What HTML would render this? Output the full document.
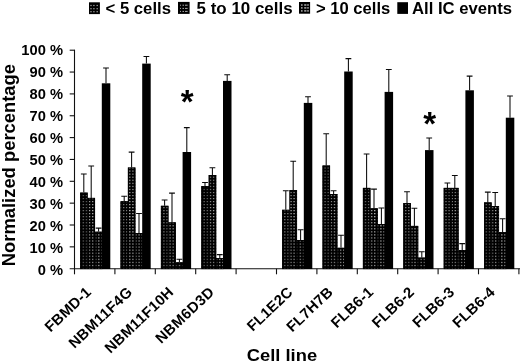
<!DOCTYPE html><html><head><meta charset="utf-8"><title>chart</title><style>html,body{margin:0;padding:0;background:#fff}svg{display:block}text{font-family:"Liberation Sans",Arial,sans-serif;font-weight:bold;fill:#000}</style></head><body>
<svg width="520" height="363" viewBox="0 0 520 363">
<defs>
<pattern id="p1" width="3.1" height="3.04" patternUnits="userSpaceOnUse" x="2.05" y="0.33"><rect width="3.1" height="3.04" fill="#000"/><rect x="0" y="0" width="1.3" height="1.05" fill="#808080"/></pattern>
<pattern id="p2" width="3.1" height="3.04" patternUnits="userSpaceOnUse" x="2.05" y="0.33"><rect width="3.1" height="3.04" fill="#000"/><rect x="0" y="0" width="1.3" height="1.05" fill="#b8b8b8"/></pattern>
<pattern id="p3" width="3.1" height="3.04" patternUnits="userSpaceOnUse" x="2.05" y="0.33"><rect width="3.1" height="3.04" fill="#000"/><rect x="0" y="0" width="1.3" height="1.05" fill="#b8b8b8"/></pattern>
</defs>
<rect width="520" height="363" fill="#fff"/>
<rect x="89.0" y="2.3" width="10.9" height="11.8" fill="#000"/>
<rect x="178.0" y="1.9" width="11.6" height="12.0" fill="#000"/>
<rect x="299.0" y="2.0" width="11.1" height="11.7" fill="#000"/>
<rect x="397.3" y="2.2" width="10.7" height="11.7" fill="#000"/>
<rect x="90.30" y="4.90" width="1.40" height="1.20" fill="#999"/>
<rect x="90.30" y="8.10" width="1.40" height="1.20" fill="#999"/>
<rect x="90.30" y="11.10" width="1.40" height="1.20" fill="#999"/>
<rect x="93.20" y="4.90" width="1.40" height="1.20" fill="#999"/>
<rect x="93.20" y="8.10" width="1.40" height="1.20" fill="#999"/>
<rect x="93.20" y="11.10" width="1.40" height="1.20" fill="#999"/>
<rect x="96.50" y="4.90" width="1.40" height="1.20" fill="#999"/>
<rect x="96.50" y="8.10" width="1.40" height="1.20" fill="#999"/>
<rect x="96.50" y="11.10" width="1.40" height="1.20" fill="#999"/>
<rect x="180.00" y="4.70" width="1.00" height="1.00" fill="#aaa"/>
<rect x="180.00" y="7.90" width="1.00" height="1.00" fill="#aaa"/>
<rect x="180.00" y="10.90" width="1.00" height="1.00" fill="#aaa"/>
<rect x="182.50" y="4.70" width="1.50" height="1.00" fill="#aaa"/>
<rect x="182.50" y="7.90" width="1.50" height="1.00" fill="#aaa"/>
<rect x="182.50" y="10.90" width="1.50" height="1.00" fill="#aaa"/>
<rect x="185.00" y="4.70" width="2.60" height="1.00" fill="#aaa"/>
<rect x="185.00" y="7.90" width="2.60" height="1.00" fill="#aaa"/>
<rect x="185.00" y="10.90" width="2.60" height="1.00" fill="#aaa"/>
<rect x="301.00" y="4.25" width="1.60" height="1.50" fill="#aaa"/>
<rect x="301.00" y="7.15" width="1.60" height="1.50" fill="#aaa"/>
<rect x="301.00" y="10.15" width="1.60" height="1.50" fill="#aaa"/>
<rect x="304.20" y="4.25" width="2.20" height="1.50" fill="#aaa"/>
<rect x="304.20" y="7.15" width="2.20" height="1.50" fill="#aaa"/>
<rect x="304.20" y="10.15" width="2.20" height="1.50" fill="#aaa"/>
<rect x="307.20" y="4.25" width="1.60" height="1.50" fill="#aaa"/>
<rect x="307.20" y="7.15" width="1.60" height="1.50" fill="#aaa"/>
<rect x="307.20" y="10.15" width="1.60" height="1.50" fill="#aaa"/>
<text x="105.5" y="13.8" font-size="16.2" textLength="65.5" lengthAdjust="spacingAndGlyphs">&lt; 5 cells</text>
<text x="196.6" y="13.8" font-size="16.2" textLength="96" lengthAdjust="spacingAndGlyphs">5 to 10 cells</text>
<text x="316" y="13.8" font-size="16.2" textLength="74.3" lengthAdjust="spacingAndGlyphs">&gt; 10 cells</text>
<text x="412" y="13.8" font-size="16.2" textLength="100" lengthAdjust="spacingAndGlyphs">All IC events</text>
<g stroke="#111" stroke-width="1.1" fill="none">
<line x1="74.5" y1="49.7" x2="74.5" y2="274.3"/>
<line x1="69.7" y1="268.7" x2="520" y2="268.7"/>
<line x1="69.7" y1="50.20" x2="74.5" y2="50.20"/>
<line x1="69.7" y1="72.05" x2="74.5" y2="72.05"/>
<line x1="69.7" y1="93.90" x2="74.5" y2="93.90"/>
<line x1="69.7" y1="115.75" x2="74.5" y2="115.75"/>
<line x1="69.7" y1="137.60" x2="74.5" y2="137.60"/>
<line x1="69.7" y1="159.45" x2="74.5" y2="159.45"/>
<line x1="69.7" y1="181.30" x2="74.5" y2="181.30"/>
<line x1="69.7" y1="203.15" x2="74.5" y2="203.15"/>
<line x1="69.7" y1="225.00" x2="74.5" y2="225.00"/>
<line x1="69.7" y1="246.85" x2="74.5" y2="246.85"/>
<line x1="114.90" y1="268.7" x2="114.90" y2="274.3"/>
<line x1="155.30" y1="268.7" x2="155.30" y2="274.3"/>
<line x1="195.70" y1="268.7" x2="195.70" y2="274.3"/>
<line x1="236.10" y1="268.7" x2="236.10" y2="274.3"/>
<line x1="276.50" y1="268.7" x2="276.50" y2="274.3"/>
<line x1="316.90" y1="268.7" x2="316.90" y2="274.3"/>
<line x1="357.30" y1="268.7" x2="357.30" y2="274.3"/>
<line x1="397.70" y1="268.7" x2="397.70" y2="274.3"/>
<line x1="438.10" y1="268.7" x2="438.10" y2="274.3"/>
<line x1="478.50" y1="268.7" x2="478.50" y2="274.3"/>
<line x1="518.90" y1="268.7" x2="518.90" y2="274.3"/>
</g>
<text transform="translate(63.0,55.30) scale(1.05,1)" font-size="14" text-anchor="end">100 %</text>
<text transform="translate(63.0,77.22) scale(1.05,1)" font-size="14" text-anchor="end">90 %</text>
<text transform="translate(63.0,99.14) scale(1.05,1)" font-size="14" text-anchor="end">80 %</text>
<text transform="translate(63.0,121.06) scale(1.05,1)" font-size="14" text-anchor="end">70 %</text>
<text transform="translate(63.0,142.98) scale(1.05,1)" font-size="14" text-anchor="end">60 %</text>
<text transform="translate(63.0,164.90) scale(1.05,1)" font-size="14" text-anchor="end">50 %</text>
<text transform="translate(63.0,186.82) scale(1.05,1)" font-size="14" text-anchor="end">40 %</text>
<text transform="translate(63.0,208.74) scale(1.05,1)" font-size="14" text-anchor="end">30 %</text>
<text transform="translate(63.0,230.66) scale(1.05,1)" font-size="14" text-anchor="end">20 %</text>
<text transform="translate(63.0,252.58) scale(1.05,1)" font-size="14" text-anchor="end">10 %</text>
<text transform="translate(63.0,274.50) scale(1.05,1)" font-size="14" text-anchor="end">0 %</text>
<text transform="translate(14.7,266.2) rotate(-90)" font-size="18.3" textLength="202.2" lengthAdjust="spacingAndGlyphs">Normalized percentage</text>
<text x="246.8" y="361.2" font-size="17.3" textLength="70.3" lengthAdjust="spacingAndGlyphs">Cell line</text>
<path d="M83.80 192.6 V174.0 M80.90 174.0 H86.70" stroke="#0a0a0a" stroke-width="1.05" fill="none"/>
<rect x="80.10" y="192.6" width="7.550000000000001" height="76.40" fill="url(#p1)"/>
<rect x="80.50" y="193.0" width="6.750000000000001" height="75.70" fill="none" stroke="#000" stroke-width="0.8"/>
<path d="M91.20 197.9 V165.89999999999998 M88.30 165.89999999999998 H94.10" stroke="#0a0a0a" stroke-width="1.05" fill="none"/>
<rect x="87.50" y="197.9" width="7.550000000000001" height="71.10" fill="url(#p2)"/>
<rect x="87.90" y="198.3" width="6.750000000000001" height="70.40" fill="none" stroke="#000" stroke-width="0.8"/>
<path d="M98.60 231.7 V228.1 M95.70 228.1 H101.50" stroke="#0a0a0a" stroke-width="1.05" fill="none"/>
<rect x="94.90" y="231.7" width="7.550000000000001" height="37.30" fill="url(#p3)"/>
<rect x="95.30" y="232.1" width="6.750000000000001" height="36.60" fill="none" stroke="#000" stroke-width="0.8"/>
<path d="M106.00 83.3 V67.9 M103.10 67.9 H108.90" stroke="#0a0a0a" stroke-width="1.05" fill="none"/>
<rect x="101.80" y="83.3" width="8.50" height="185.70" fill="#000"/>
<text transform="translate(92.30,293.1) rotate(-43.5)" font-size="14.8" letter-spacing="0.3" text-anchor="end">FBMD-1</text>
<path d="M124.20 201.2 V196.2 M121.30 196.2 H127.10" stroke="#0a0a0a" stroke-width="1.05" fill="none"/>
<rect x="120.50" y="201.2" width="7.550000000000001" height="67.80" fill="url(#p1)"/>
<rect x="120.90" y="201.6" width="6.750000000000001" height="67.10" fill="none" stroke="#000" stroke-width="0.8"/>
<path d="M131.60 167.5 V152.1 M128.70 152.1 H134.50" stroke="#0a0a0a" stroke-width="1.05" fill="none"/>
<rect x="127.90" y="167.5" width="7.550000000000001" height="101.50" fill="url(#p2)"/>
<rect x="128.30" y="167.9" width="6.750000000000001" height="100.80" fill="none" stroke="#000" stroke-width="0.8"/>
<path d="M139.00 233.0 V213.39999999999998 M136.10 213.39999999999998 H141.90" stroke="#0a0a0a" stroke-width="1.05" fill="none"/>
<rect x="135.30" y="233.0" width="7.550000000000001" height="36.00" fill="url(#p3)"/>
<rect x="135.70" y="233.4" width="6.750000000000001" height="35.30" fill="none" stroke="#000" stroke-width="0.8"/>
<path d="M146.40 63.6 V56.400000000000006 M143.50 56.400000000000006 H149.30" stroke="#0a0a0a" stroke-width="1.05" fill="none"/>
<rect x="142.20" y="63.6" width="8.50" height="205.40" fill="#000"/>
<text transform="translate(133.40,293.1) rotate(-43.5)" font-size="14.8" letter-spacing="0.4" text-anchor="end">NBM11F4G</text>
<path d="M164.60 205.8 V200.0 M161.70 200.0 H167.50" stroke="#0a0a0a" stroke-width="1.05" fill="none"/>
<rect x="160.90" y="205.8" width="7.550000000000001" height="63.20" fill="url(#p1)"/>
<rect x="161.30" y="206.20000000000002" width="6.750000000000001" height="62.50" fill="none" stroke="#000" stroke-width="0.8"/>
<path d="M172.00 222.3 V193.1 M169.10 193.1 H174.90" stroke="#0a0a0a" stroke-width="1.05" fill="none"/>
<rect x="168.30" y="222.3" width="7.550000000000001" height="46.70" fill="url(#p2)"/>
<rect x="168.70" y="222.70000000000002" width="6.750000000000001" height="46.00" fill="none" stroke="#000" stroke-width="0.8"/>
<path d="M179.40 262.3 V259.2 M176.50 259.2 H182.30" stroke="#0a0a0a" stroke-width="1.05" fill="none"/>
<rect x="175.70" y="262.3" width="7.550000000000001" height="6.70" fill="url(#p3)"/>
<rect x="176.10" y="262.7" width="6.750000000000001" height="6.00" fill="none" stroke="#000" stroke-width="0.8"/>
<path d="M186.80 152.0 V127.60000000000001 M183.90 127.60000000000001 H189.70" stroke="#0a0a0a" stroke-width="1.05" fill="none"/>
<rect x="182.60" y="152.0" width="8.50" height="117.00" fill="#000"/>
<text transform="translate(174.60,293.1) rotate(-43.5)" font-size="14.8" letter-spacing="0.33" text-anchor="end">NBM11F10H</text>
<path d="M205.00 186.0 V182.5 M202.10 182.5 H207.90" stroke="#0a0a0a" stroke-width="1.05" fill="none"/>
<rect x="201.30" y="186.0" width="7.550000000000001" height="83.00" fill="url(#p1)"/>
<rect x="201.70" y="186.4" width="6.750000000000001" height="82.30" fill="none" stroke="#000" stroke-width="0.8"/>
<path d="M212.40 175.0 V167.7 M209.50 167.7 H215.30" stroke="#0a0a0a" stroke-width="1.05" fill="none"/>
<rect x="208.70" y="175.0" width="7.550000000000001" height="94.00" fill="url(#p2)"/>
<rect x="209.10" y="175.4" width="6.750000000000001" height="93.30" fill="none" stroke="#000" stroke-width="0.8"/>
<path d="M219.80 258.1 V254.6 M216.90 254.6 H222.70" stroke="#0a0a0a" stroke-width="1.05" fill="none"/>
<rect x="216.10" y="258.1" width="7.550000000000001" height="10.90" fill="url(#p3)"/>
<rect x="216.50" y="258.5" width="6.750000000000001" height="10.20" fill="none" stroke="#000" stroke-width="0.8"/>
<path d="M227.20 80.9 V74.7 M224.30 74.7 H230.10" stroke="#0a0a0a" stroke-width="1.05" fill="none"/>
<rect x="223.00" y="80.9" width="8.50" height="188.10" fill="#000"/>
<text transform="translate(215.20,293.1) rotate(-43.5)" font-size="14.8" letter-spacing="0.4" text-anchor="end">NBM6D3D</text>
<path d="M285.80 209.8 V190.7 M282.90 190.7 H288.70" stroke="#0a0a0a" stroke-width="1.05" fill="none"/>
<rect x="282.10" y="209.8" width="7.550000000000001" height="59.20" fill="url(#p1)"/>
<rect x="282.50" y="210.20000000000002" width="6.750000000000001" height="58.50" fill="none" stroke="#000" stroke-width="0.8"/>
<path d="M293.20 190.0 V161.2 M290.30 161.2 H296.10" stroke="#0a0a0a" stroke-width="1.05" fill="none"/>
<rect x="289.50" y="190.0" width="7.550000000000001" height="79.00" fill="url(#p2)"/>
<rect x="289.90" y="190.4" width="6.750000000000001" height="78.30" fill="none" stroke="#000" stroke-width="0.8"/>
<path d="M300.60 240.0 V229.79999999999998 M297.70 229.79999999999998 H303.50" stroke="#0a0a0a" stroke-width="1.05" fill="none"/>
<rect x="296.90" y="240.0" width="7.550000000000001" height="29.00" fill="url(#p3)"/>
<rect x="297.30" y="240.4" width="6.750000000000001" height="28.30" fill="none" stroke="#000" stroke-width="0.8"/>
<path d="M308.00 102.9 V96.7 M305.10 96.7 H310.90" stroke="#0a0a0a" stroke-width="1.05" fill="none"/>
<rect x="303.80" y="102.9" width="8.50" height="166.10" fill="#000"/>
<text transform="translate(293.80,293.1) rotate(-43.5)" font-size="14.8" letter-spacing="0.25" text-anchor="end">FL1E2C</text>
<path d="M326.20 165.5 V133.7 M323.30 133.7 H329.10" stroke="#0a0a0a" stroke-width="1.05" fill="none"/>
<rect x="322.50" y="165.5" width="7.550000000000001" height="103.50" fill="url(#p1)"/>
<rect x="322.90" y="165.9" width="6.750000000000001" height="102.80" fill="none" stroke="#000" stroke-width="0.8"/>
<path d="M333.60 194.0 V190.7 M330.70 190.7 H336.50" stroke="#0a0a0a" stroke-width="1.05" fill="none"/>
<rect x="329.90" y="194.0" width="7.550000000000001" height="75.00" fill="url(#p2)"/>
<rect x="330.30" y="194.4" width="6.750000000000001" height="74.30" fill="none" stroke="#000" stroke-width="0.8"/>
<path d="M341.00 247.8 V235.2 M338.10 235.2 H343.90" stroke="#0a0a0a" stroke-width="1.05" fill="none"/>
<rect x="337.30" y="247.8" width="7.550000000000001" height="21.20" fill="url(#p3)"/>
<rect x="337.70" y="248.20000000000002" width="6.750000000000001" height="20.50" fill="none" stroke="#000" stroke-width="0.8"/>
<path d="M348.40 71.5 V58.6 M345.50 58.6 H351.30" stroke="#0a0a0a" stroke-width="1.05" fill="none"/>
<rect x="344.20" y="71.5" width="8.50" height="197.50" fill="#000"/>
<text transform="translate(334.00,293.1) rotate(-43.5)" font-size="14.8" letter-spacing="0.3" text-anchor="end">FL7H7B</text>
<path d="M366.60 187.9 V153.89999999999998 M363.70 153.89999999999998 H369.50" stroke="#0a0a0a" stroke-width="1.05" fill="none"/>
<rect x="362.90" y="187.9" width="7.550000000000001" height="81.10" fill="url(#p1)"/>
<rect x="363.30" y="188.3" width="6.750000000000001" height="80.40" fill="none" stroke="#000" stroke-width="0.8"/>
<path d="M374.00 208.3 V189.1 M371.10 189.1 H376.90" stroke="#0a0a0a" stroke-width="1.05" fill="none"/>
<rect x="370.30" y="208.3" width="7.550000000000001" height="60.70" fill="url(#p2)"/>
<rect x="370.70" y="208.70000000000002" width="6.750000000000001" height="60.00" fill="none" stroke="#000" stroke-width="0.8"/>
<path d="M381.40 224.1 V208.0 M378.50 208.0 H384.30" stroke="#0a0a0a" stroke-width="1.05" fill="none"/>
<rect x="377.70" y="224.1" width="7.550000000000001" height="44.90" fill="url(#p3)"/>
<rect x="378.10" y="224.5" width="6.750000000000001" height="44.20" fill="none" stroke="#000" stroke-width="0.8"/>
<path d="M388.80 91.9 V69.5 M385.90 69.5 H391.70" stroke="#0a0a0a" stroke-width="1.05" fill="none"/>
<rect x="384.60" y="91.9" width="8.50" height="177.10" fill="#000"/>
<text transform="translate(374.30,293.1) rotate(-43.5)" font-size="14.8" letter-spacing="0.25" text-anchor="end">FLB6-1</text>
<path d="M407.00 203.1 V191.7 M404.10 191.7 H409.90" stroke="#0a0a0a" stroke-width="1.05" fill="none"/>
<rect x="403.30" y="203.1" width="7.550000000000001" height="65.90" fill="url(#p1)"/>
<rect x="403.70" y="203.5" width="6.750000000000001" height="65.20" fill="none" stroke="#000" stroke-width="0.8"/>
<path d="M414.40 225.9 V208.29999999999998 M411.50 208.29999999999998 H417.30" stroke="#0a0a0a" stroke-width="1.05" fill="none"/>
<rect x="410.70" y="225.9" width="7.550000000000001" height="43.10" fill="url(#p2)"/>
<rect x="411.10" y="226.3" width="6.750000000000001" height="42.40" fill="none" stroke="#000" stroke-width="0.8"/>
<path d="M421.80 257.6 V251.79999999999998 M418.90 251.79999999999998 H424.70" stroke="#0a0a0a" stroke-width="1.05" fill="none"/>
<rect x="418.10" y="257.6" width="7.550000000000001" height="11.40" fill="url(#p3)"/>
<rect x="418.50" y="258.0" width="6.750000000000001" height="10.70" fill="none" stroke="#000" stroke-width="0.8"/>
<path d="M429.20 150.1 V137.89999999999998 M426.30 137.89999999999998 H432.10" stroke="#0a0a0a" stroke-width="1.05" fill="none"/>
<rect x="425.00" y="150.1" width="8.50" height="118.90" fill="#000"/>
<text transform="translate(415.20,293.1) rotate(-43.5)" font-size="14.8" letter-spacing="0.25" text-anchor="end">FLB6-2</text>
<path d="M447.40 187.9 V183.0 M444.50 183.0 H450.30" stroke="#0a0a0a" stroke-width="1.05" fill="none"/>
<rect x="443.70" y="187.9" width="7.550000000000001" height="81.10" fill="url(#p1)"/>
<rect x="444.10" y="188.3" width="6.750000000000001" height="80.40" fill="none" stroke="#000" stroke-width="0.8"/>
<path d="M454.80 187.9 V175.5 M451.90 175.5 H457.70" stroke="#0a0a0a" stroke-width="1.05" fill="none"/>
<rect x="451.10" y="187.9" width="7.550000000000001" height="81.10" fill="url(#p2)"/>
<rect x="451.50" y="188.3" width="6.750000000000001" height="80.40" fill="none" stroke="#000" stroke-width="0.8"/>
<path d="M462.20 250.0 V243.6 M459.30 243.6 H465.10" stroke="#0a0a0a" stroke-width="1.05" fill="none"/>
<rect x="458.50" y="250.0" width="7.550000000000001" height="19.00" fill="url(#p3)"/>
<rect x="458.90" y="250.4" width="6.750000000000001" height="18.30" fill="none" stroke="#000" stroke-width="0.8"/>
<path d="M469.60 90.3 V76.10000000000001 M466.70 76.10000000000001 H472.50" stroke="#0a0a0a" stroke-width="1.05" fill="none"/>
<rect x="465.40" y="90.3" width="8.50" height="178.70" fill="#000"/>
<text transform="translate(455.40,293.1) rotate(-43.5)" font-size="14.8" letter-spacing="0.2" text-anchor="end">FLB6-3</text>
<path d="M487.80 202.4 V192.1 M484.90 192.1 H490.70" stroke="#0a0a0a" stroke-width="1.05" fill="none"/>
<rect x="484.10" y="202.4" width="7.550000000000001" height="66.60" fill="url(#p1)"/>
<rect x="484.50" y="202.8" width="6.750000000000001" height="65.90" fill="none" stroke="#000" stroke-width="0.8"/>
<path d="M495.20 206.1 V192.39999999999998 M492.30 192.39999999999998 H498.10" stroke="#0a0a0a" stroke-width="1.05" fill="none"/>
<rect x="491.50" y="206.1" width="7.550000000000001" height="62.90" fill="url(#p2)"/>
<rect x="491.90" y="206.5" width="6.750000000000001" height="62.20" fill="none" stroke="#000" stroke-width="0.8"/>
<path d="M502.60 232.1 V218.79999999999998 M499.70 218.79999999999998 H505.50" stroke="#0a0a0a" stroke-width="1.05" fill="none"/>
<rect x="498.90" y="232.1" width="7.550000000000001" height="36.90" fill="url(#p3)"/>
<rect x="499.30" y="232.5" width="6.750000000000001" height="36.20" fill="none" stroke="#000" stroke-width="0.8"/>
<path d="M510.00 117.7 V95.9 M507.10 95.9 H512.90" stroke="#0a0a0a" stroke-width="1.05" fill="none"/>
<rect x="505.80" y="117.7" width="8.50" height="151.30" fill="#000"/>
<text transform="translate(495.90,293.1) rotate(-43.5)" font-size="14.8" letter-spacing="0.27" text-anchor="end">FLB6-4</text>
<text x="187.2" y="113.2" font-size="33" text-anchor="middle">*</text>
<text x="429.7" y="135.2" font-size="33" text-anchor="middle">*</text>
</svg></body></html>
